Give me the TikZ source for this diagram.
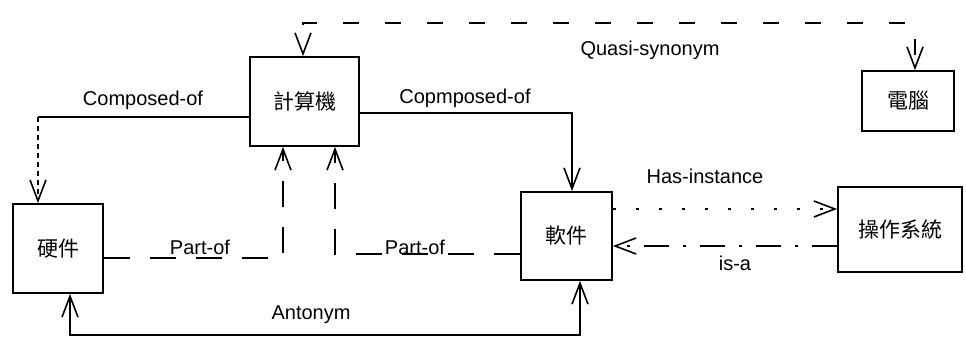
\documentclass[tikz,border=0pt]{standalone}
\usepackage{fontspec}
\setmainfont{Liberation Sans}
\newfontfamily\cjk{Noto Sans CJK TC}
\usetikzlibrary{arrows.meta}
\tikzset{
  Arr/.tip={Straight Barb[length=21pt,width=16pt,line width=1.6pt]},
  box/.style={draw, line width=1.8pt, inner sep=0pt, font=\cjk\fontsize{21}{25}\selectfont},
  conn/.style={line width=1.6pt},
  lab/.style={inner sep=0pt, font=\fontsize{20}{24}\selectfont},
  quasidash/.style={dash pattern=on 16pt off 26pt, dash phase=-28pt},
  finedash/.style={dash pattern=on 5pt off 4pt},
  partdash/.style={dash pattern=on 26pt off 20pt},
  dotline/.style={dash pattern=on 3pt off 20pt},
  dashdotline/.style={dash pattern=on 25pt off 14pt on 3pt off 14pt},
}
\begin{document}
\begin{tikzpicture}[x=1pt,y=-1pt]
\useasboundingbox (0,0) rectangle (966,345);
% boxes
\node[box, minimum width=109pt, minimum height=89pt] (jsj) at (304.5,101.5) {計算機};
\node[box, minimum width=92pt, minimum height=60pt] (dn) at (908,101) {電腦};
\node[box, minimum width=90pt, minimum height=89pt] (yj) at (58,248.5) {硬件};
\node[box, minimum width=91pt, minimum height=88pt] (rj) at (566.5,236) {軟件};
\node[box, minimum width=124pt, minimum height=85pt] (czxt) at (900,229.5) {操作系統};
% helper coordinates
\coordinate (q1) at (303,23);
\coordinate (q2) at (915,23);
\coordinate (c1) at (38,117);
\coordinate (c2) at (572,113);
\coordinate (p1) at (283,258);
\coordinate (p2) at (335,254);
\coordinate (h1) at (700,209);
\coordinate (i1) at (700,246);
\coordinate (a1) at (70,335);
\coordinate (a2) at (580,335);
% Quasi-synonym
\draw[conn, quasidash, Arr-Arr] (q1 |- jsj.north) -- (q1) -- (q2) -- (q2 |- dn.north);
% Composed-of (left)
\draw[conn] (jsj.west |- c1) -- (c1);
\draw[conn, finedash, -Arr] (c1) -- (c1 |- yj.north);
% Copmposed-of (right)
\draw[conn, -Arr] (jsj.east |- c2) -- (c2) -- (c2 |- rj.north);
% Part-of
\draw[conn, partdash, -Arr] (yj.east |- p1) -- (p1) -- (p1 |- jsj.south);
\draw[conn, partdash, -Arr] (rj.west |- p2) -- (p2) -- (p2 |- jsj.south);
% Has-instance
\draw[conn, dotline, -Arr] (rj.east |- h1) -- (czxt.west |- h1);
% is-a
\draw[conn, dashdotline, -Arr] (czxt.west |- i1) -- (rj.east |- i1);
% Antonym
\draw[conn, Arr-Arr] (a1 |- yj.south) -- (a1) -- (a2) -- (a2 |- rj.south);
% labels
\node[lab] (lq) at (650,50) {Quasi-synonym};
\node[lab] (lc1) at (143,100) {Composed-of};
\node[lab] (lc2) at (465,98) {Copmposed-of};
\node[lab] (lp1) at (200,247) {Part-of};
\node[lab] (lp2) at (415,247) {Part-of};
\node[lab] (lh) at (705,176) {Has-instance};
\node[lab] (li) at (735,263) {is-a};
\node[lab] (la) at (311,315) {Antonym};
\end{tikzpicture}
\end{document}
